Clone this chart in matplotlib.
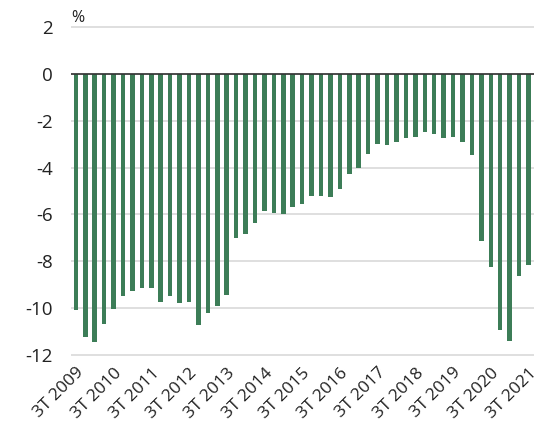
import numpy as np
import matplotlib.pyplot as plt

plt.rcParams['font.family'] = ['Open Sans', 'DejaVu Sans']

# quarterly values, 3T 2009 .. 3T 2021 (%)
values = [
    -10.1, -11.25, -11.45, -10.7, -10.05, -9.5, -9.3, -9.15, -9.15, -9.75,
    -9.5, -9.8, -9.75, -10.75, -10.2, -9.9, -9.45, -7.0, -6.85, -6.35,
    -5.85, -5.95, -6.0, -5.7, -5.55, -5.2, -5.2, -5.25, -4.93, -4.27,
    -4.0, -3.42, -3.0, -3.05, -2.9, -2.75, -2.7, -2.48, -2.55, -2.75,
    -2.7, -2.9, -3.45, -7.15, -8.25, -10.95, -11.4, -8.65, -8.15,
]
tick_labels = ["3T 2009", "3T 2010", "3T 2011", "3T 2012", "3T 2013", "3T 2014",
               "3T 2015", "3T 2016", "3T 2017", "3T 2018", "3T 2019", "3T 2020",
               "3T 2021"]
yticks = [2, 0, -2, -4, -6, -8, -10, -12]

fig = plt.figure(figsize=(5.39, 4.36), dpi=100)
ax = fig.add_axes([0.132, 0.176, 0.859, 0.772])

x = np.arange(len(values))
ax.bar(x, values, width=0.48, color="#3c7d57", zorder=3)

ax.set_xlim(-0.5, len(values) - 0.4)
ax.set_ylim(-12.2, 2.2)
ax.set_yticks(yticks)
ax.set_yticklabels([str(v) for v in yticks], fontsize=13.5, color="#222222")
ax.set_xticks(x[::4])
ax.set_xticklabels(tick_labels, rotation=45, ha="right", va="top",
                   rotation_mode="anchor", fontsize=12.5, color="#222222")

ax.grid(axis="y", color="#d9d9d9", linewidth=1.2, zorder=0)
ax.axhline(0, color="#333333", linewidth=1.2, zorder=4)
ax.tick_params(axis="y", length=0, pad=13)
ax.tick_params(axis="x", length=0, pad=4)
for s in ax.spines.values():
    s.set_visible(False)

fig.text(0.133, 0.958, "%", fontsize=11.5, color="#222222", ha="left", va="center")

fig.savefig("out.png", dpi=100)
